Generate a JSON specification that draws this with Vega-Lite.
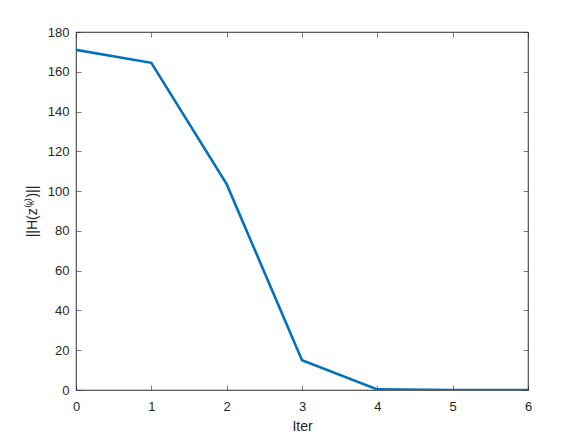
{
  "$schema": "https://vega.github.io/schema/vega-lite/v6.json",
  "width": 452,
  "height": 358,
  "autosize": {"type": "none"},
  "padding": {"left": 76, "top": 32, "right": 56, "bottom": 48},
  "background": "white",
  "config": {
    "view": {"stroke": "#262626", "strokeWidth": 0.6},
    "axis": {
      "domainColor": "#262626",
      "domainWidth": 0.6,
      "tickColor": "#262626",
      "tickWidth": 0.6,
      "tickSize": -5,
      "grid": false,
      "labelFont": "Liberation Sans",
      "labelFontSize": 13,
      "labelColor": "#262626",
      "titleFont": "Liberation Sans",
      "titleFontSize": 14,
      "titleFontWeight": "normal",
      "titleColor": "#262626"
    }
  },
  "data": {"values": [
    {"iter": 0, "h": 171},
    {"iter": 1, "h": 164.5},
    {"iter": 2, "h": 103.5},
    {"iter": 3, "h": 15},
    {"iter": 4, "h": 0.3},
    {"iter": 5, "h": 0},
    {"iter": 6, "h": 0}
  ]},
  "layer": [
    {
      "mark": {"type": "line", "color": "#0072BD", "strokeWidth": 2.6, "clip": true},
      "encoding": {
        "x": {"field": "iter", "type": "quantitative", "scale": {"domain": [0, 6], "nice": false},
          "axis": {"title": "Iter", "values": [0,1,2,3,4,5,6], "labelPadding": 15, "titlePadding": 6, "labelFlush": false}},
        "y": {"field": "h", "type": "quantitative", "scale": {"domain": [0, 180], "nice": false},
          "axis": {"title": "||H(z⁽ᵏ⁾)||", "values": [0,20,40,60,80,100,120,140,160,180], "labelPadding": 12, "titlePadding": 8}}
      }
    },
    {
      "mark": {"type": "line", "opacity": 0},
      "encoding": {
        "x": {"field": "iter", "type": "quantitative", "scale": {"domain": [0, 6], "nice": false},
          "axis": {"orient": "top", "title": null, "labels": false, "values": [0,1,2,3,4,5,6]}},
        "y": {"field": "h", "type": "quantitative", "scale": {"domain": [0, 180], "nice": false},
          "axis": {"orient": "right", "title": null, "labels": false, "values": [0,20,40,60,80,100,120,140,160,180]}}
      }
    }
  ],
  "resolve": {"axis": {"x": "independent", "y": "independent"}}
}
